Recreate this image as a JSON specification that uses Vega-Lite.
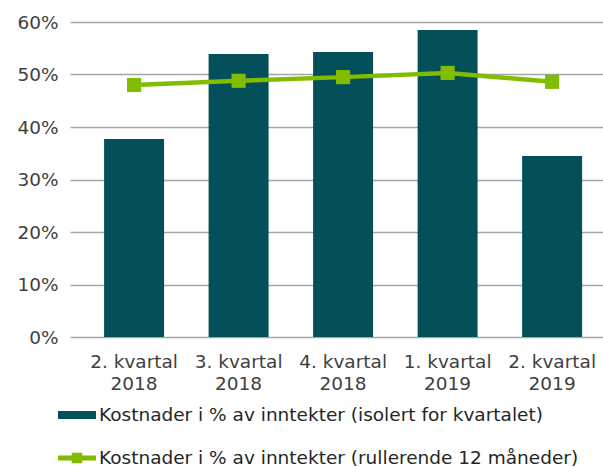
{
  "$schema": "https://vega.github.io/schema/vega-lite/v6.json",
  "width": 533,
  "height": 315,
  "autosize": {"type": "none"},
  "padding": {"left": 70, "top": 22, "right": 0, "bottom": 130},
  "background": "white",
  "config": {
    "font": "DejaVu Sans",
    "view": {"stroke": null},
    "axis": {"labelFont": "DejaVu Sans", "labelFontSize": 18.5, "labelColor": "#404040"}
  },
  "data": {
    "values": [
      {"q": "2. kvartal|2018", "bar": 37.7, "line": 48.0},
      {"q": "3. kvartal|2018", "bar": 53.9, "line": 48.8},
      {"q": "4. kvartal|2018", "bar": 54.3, "line": 49.5},
      {"q": "1. kvartal|2019", "bar": 58.5, "line": 50.3},
      {"q": "2. kvartal|2019", "bar": 34.5, "line": 48.6}
    ]
  },
  "encoding": {
    "x": {
      "field": "q", "type": "nominal", "sort": null, "title": null,
      "scale": {"paddingInner": 0.426, "paddingOuter": 0.263, "align": 0.62},
      "axis": {"labelAngle": 0, "domain": false, "ticks": false, "labelPadding": 15, "labelLineHeight": 22, "labelExpr": "split(datum.value, '|')"}
    }
  },
  "layer": [
    {
      "mark": {"type": "bar"},
      "encoding": {
        "y": {
          "field": "bar", "type": "quantitative", "title": null,
          "scale": {"domain": [0, 60]},
          "axis": {"values": [0, 10, 20, 30, 40, 50, 60], "labelExpr": "datum.value + '%'", "domain": false, "ticks": false, "labelPadding": 12, "gridColor": "#a6a6a6", "gridWidth": 1.5}
        },
        "color": {"datum": "Kostnader i % av inntekter (isolert for kvartalet)", "type": "nominal"}
      }
    },
    {
      "mark": {"type": "line", "strokeWidth": 4.5, "point": {"shape": "square", "size": 200, "opacity": 1, "filled": true}},
      "encoding": {
        "y": {"field": "line", "type": "quantitative"},
        "color": {"datum": "Kostnader i % av inntekter (rullerende 12 måneder)", "type": "nominal",
          "scale": {"domain": ["Kostnader i % av inntekter (isolert for kvartalet)", "Kostnader i % av inntekter (rullerende 12 måneder)"], "range": ["#03505A", "#82BC00"]},
          "legend": {
            "title": null, "orient": "none", "legendX": -12, "legendY": 374, "direction": "vertical",
            "labelFontSize": 18.5, "labelColor": "#262626", "labelFont": "DejaVu Sans", "rowPadding": 14, "labelOffset": 3, "labelLimit": 0,
            "symbolSize": 1444, "symbolStrokeWidth": 0,
            "encode": {"symbols": {"update": {
              "shape": {"signal": "datum.value === 'Kostnader i % av inntekter (isolert for kvartalet)' ? 'M-1,-0.21H1V0.21H-1Z' : 'M-1,-0.13H-0.28V-0.28H0.28V-0.13H1V0.13H0.28V0.28H-0.28V0.13H-1Z'"},
              "fill": {"signal": "scale('color', datum.value)"},
              "stroke": {"value": null}
            }}}
          }
        }
      }
    }
  ]
}
